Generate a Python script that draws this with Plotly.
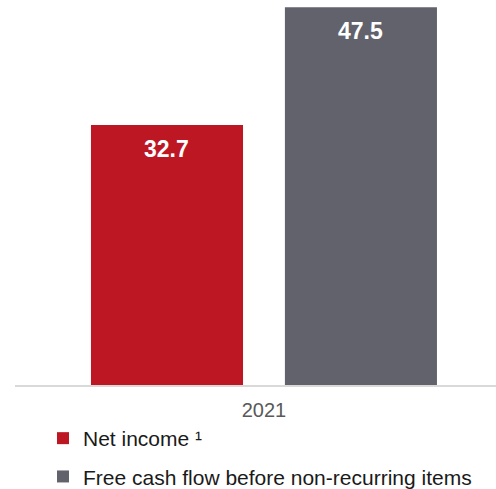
import plotly.graph_objects as go

categories = ["2021"]
series_names = ["Net income ¹", "Free cash flow before non-recurring items"]
net_income = [32.7]
free_cash_flow = [47.5]
colors = ["#BE1724", "#62626C"]

FONT = "Liberation Sans, Arial, sans-serif"
BARGAP = 0.221
GROUPGAP = 0.216

fig = go.Figure()
for i, (name, vals) in enumerate(zip(series_names, [net_income, free_cash_flow])):
    fig.add_trace(go.Bar(
        x=categories, y=vals, name=name,
        marker=dict(color=colors[i], line=dict(width=0)),
        legendgroup=f"g{i}",
        offsetgroup=str(i),
    ))

annotations = []
n = len(series_names)
groupw = 1 - BARGAP
slot = groupw / n
for i, vals in enumerate([net_income, free_cash_flow]):
    for j, v in enumerate(vals):
        xpos = j - groupw / 2 + slot * (i + 0.5)
        annotations.append(dict(
            x=xpos, y=v, xref="x", yref="y",
            text=f"<b>{v:.1f}</b>", showarrow=False,
            yanchor="top", yshift=-9,
            font=dict(family=FONT, size=23, color="white"),
        ))

fig.update_layout(
    width=496, height=489,
    margin=dict(l=15, r=0, t=0, b=104, autoexpand=False),
    paper_bgcolor="white", plot_bgcolor="white",
    barmode="group", bargap=BARGAP, bargroupgap=GROUPGAP,
    showlegend=True,
    legend=dict(
        x=(43 - 15) / 481, xanchor="left",
        y=-(418 - 385) / 385, yanchor="top",
        font=dict(family=FONT, size=21, color="#1a1a1a"),
        bgcolor="rgba(0,0,0,0)",
        tracegroupgap=8,
        traceorder="grouped",
        itemwidth=30,
    ),
    xaxis=dict(
        type="category",
        range=[-0.5, 0.466],
        showline=True, linecolor="#D9D9D9", linewidth=2,
        showgrid=False, ticks="",
        tickfont=dict(family=FONT, size=20, color="#595959"),
        ticklabelstandoff=6,
    ),
    yaxis=dict(
        range=[0, 48.4], visible=False, showgrid=False, zeroline=False,
    ),
    annotations=annotations,
    font=dict(family=FONT),
)

fig.write_html("out.html")
